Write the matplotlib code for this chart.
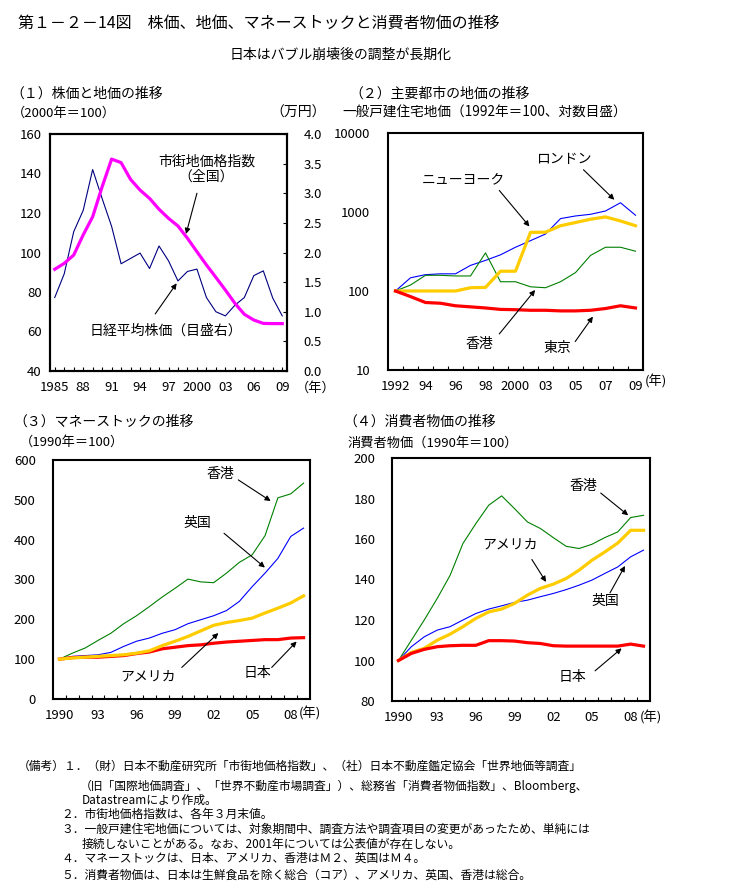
import matplotlib
matplotlib.use('Agg')
import matplotlib.pyplot as plt

plt.rcParams['font.family'] = ['Noto Sans CJK JP', 'DejaVu Sans']

W, H = 731, 893

# (1) 株価と地価の推移
p1_years = list(range(1985, 2010))
land_index = [91.5, 94.5, 98.7, 108.9, 118.1, 133.3, 147.3, 145.5, 137.0, 131.6,
              127.4, 121.9, 117.3, 113.4, 107.2, 100.4, 93.7, 87.4, 81.0, 74.3,
              68.7, 65.8, 64.1, 64.0, 64.0]
nikkei = [1.24, 1.64, 2.35, 2.71, 3.40, 2.91, 2.44, 1.81, 1.90, 1.99,
          1.73, 2.11, 1.86, 1.52, 1.68, 1.72, 1.24, 1.00, 0.93, 1.11,
          1.24, 1.61, 1.69, 1.23, 0.93]
p1_label_years = [1985, 1988, 1991, 1994, 1997, 2000, 2003, 2006, 2009]
p1_labels = ['1985', '88', '91', '94', '97', '2000', '03', '06', '09']

# (2) 主要都市の地価 (2001年は欠落)
p2_years = [1992, 1993, 1994, 1995, 1996, 1997, 1998, 1999, 2000,
            2002, 2003, 2004, 2005, 2006, 2007, 2008, 2009]
p2_labels = ['1992', '94', '96', '98', '2000', '03', '05', '07', '09']
london = [100, 147, 161, 165, 165, 211, 244, 287, 358, 434, 526, 825, 891, 935, 1030, 1310, 910]
newyork = [100, 100, 100, 100, 100, 110, 111, 178, 178, 552, 555, 670, 736, 810, 866, 770, 670]
hongkong_land = [100, 119, 158, 158, 155, 155, 304, 131, 131, 113, 110, 131, 171, 282, 358, 358, 319]
tokyo = [100, 85, 71.5, 70, 65, 63, 61, 58.5, 58, 57, 57, 56, 56, 57, 60, 65, 61]

# (3) マネーストック
p34_years = list(range(1990, 2010))
p34_label_years = [1990, 1993, 1996, 1999, 2002, 2005, 2008]
p34_labels = ['1990', '93', '96', '99', '02', '05', '08']
ms_hk = [100, 115, 128, 147, 165, 189, 209, 232, 256, 278,
         301, 294, 292, 316, 343, 362, 410, 505, 515, 542]
ms_uk = [100, 107, 109, 111, 117, 132, 145, 153, 165, 174,
         189, 199, 209, 222, 245, 282, 316, 353, 408, 429]
ms_us = [100, 103, 105, 107, 109, 111, 115, 121, 134, 145,
         157, 171, 185, 192, 197, 203, 216, 228, 241, 259]
ms_jp = [100, 104, 105, 105, 107, 109, 114, 118, 126, 130,
         134, 136, 140, 143, 145, 147, 149, 149, 153, 154]

# (4) 消費者物価
cpi_hk = [100, 110, 120, 130.6, 142, 157.8, 167.6, 176.7, 181.3, 175,
          168.4, 165.2, 160.7, 156.4, 155.3, 157.4, 160.7, 163.5, 170.6, 171.7]
cpi_us = [100, 104, 106, 110, 113, 116.7, 120.8, 124, 125.4, 128.2,
          132.3, 135.6, 137.7, 140.5, 144.6, 149.5, 153.6, 158, 164.3, 164.3]
cpi_uk = [100, 106.8, 111.7, 115, 116.7, 120, 123.2, 125.4, 127, 128.7,
          129.8, 131.5, 133.1, 135, 137.2, 139.7, 143, 146.2, 151.2, 154.5]
cpi_jp = [100, 103.5, 105.5, 106.8, 107.3, 107.5, 107.5, 109.8, 109.8, 109.6,
          108.8, 108.4, 107.3, 107.1, 107.1, 107.1, 107.1, 107.1, 108.1, 107.1]

MAGENTA = '#FF00FF'
NAVY = '#000080'
BLUE = '#0000FF'
GOLD = '#FFCC00'
GREEN = '#008000'
RED = '#FF0000'
THICK = 2.3
THIN = 0.8

fig = plt.figure(figsize=(W / 100, H / 100), dpi=100)


def add_axes_px(left, top, right, bottom):
    return fig.add_axes([left / W, 1 - bottom / H, (right - left) / W, (bottom - top) / H])


def ftext(x, y, s, size=10, **kw):
    fig.text(x / W, 1 - y / H, s, fontsize=size, va='center', **kw)


def style(ax, ypad):
    for sp in ax.spines.values():
        sp.set_linewidth(1.5)
    ax.tick_params(axis='y', which='both', length=0, pad=ypad, labelsize=9.5)
    ax.tick_params(axis='x', which='major', length=0, pad=7, labelsize=9.5)
    ax.tick_params(axis='x', which='minor', direction='in', length=3, width=0.8)


def arrow(ax, tail, head):
    ax.annotate('', xy=head, xytext=tail,
                arrowprops=dict(arrowstyle='-|>', color='black', lw=0.8,
                                mutation_scale=8, shrinkA=0, shrinkB=0))


# titles
ftext(18, 23, '第１－２－14図　株価、地価、マネーストックと消費者物価の推移', size=11.5)
ftext(341, 55, '日本はバブル崩壊後の調整が長期化', size=10, ha='center')

# ---- (1)
ftext(10, 94, '（１）株価と地価の推移')
ftext(12, 113, '（2000年＝100）', size=9.5)
ftext(270, 113, '（万円）')
ax1 = add_axes_px(50, 134, 287, 371)
ax1.plot(p1_years, land_index, color=MAGENTA, lw=THICK, zorder=3)
ax1.set_xlim(1984.5, 2009.5)
ax1.set_ylim(40, 160)
ax1.set_yticks(range(40, 161, 20))
ax1.set_xticks(p1_label_years, p1_labels)
ax1.set_xticks(p1_years, minor=True)
style(ax1, 6)
ax1.tick_params(axis='x', which='major', direction='in', length=3, width=0.8)
ax1r = ax1.twinx()
ax1r.plot(p1_years, nikkei, color=NAVY, lw=THIN, zorder=2)
ax1r.set_ylim(0, 4)
ax1r.set_yticks([i * 0.5 for i in range(9)])
ax1r.set_yticklabels(['%.1f' % (i * 0.5) for i in range(9)])
ax1r.tick_params(axis='y', direction='in', length=3, width=0.8, pad=12, labelsize=9.5)
ax1.set_zorder(ax1r.get_zorder() + 1)
ax1.patch.set_visible(False)
for sp in ax1r.spines.values():
    sp.set_linewidth(1.5)
ax1.text(2001.0, 145.8, '市街地価格指数', ha='center', va='center', fontsize=10)
ax1.text(2001.0, 138.2, '（全国）', ha='center', va='center', fontsize=10)
arrow(ax1, (2000.0, 130.0), (1998.85, 109.4))
ax1.text(1996.7, 60.3, '日経平均株価（目盛右）', ha='center', va='center', fontsize=10)
arrow(ax1, (1995.6, 68.9), (1997.86, 84.4))
ftext(296, 388, '（年）', size=9.5)

# ---- (2)
ftext(349, 94, '（２）主要都市の地価の推移')
ftext(342, 113, '一般戸建住宅地価（1992年＝100、対数目盛）', size=9.8)
ax2 = add_axes_px(388, 133, 643, 370)
idx = list(range(len(p2_years)))
ax2.plot(idx, london, color=BLUE, lw=THIN)
ax2.plot(idx, hongkong_land, color=GREEN, lw=THIN)
ax2.plot(idx, newyork, color=GOLD, lw=THICK)
ax2.plot(idx, tokyo, color=RED, lw=THICK)
ax2.set_yscale('log')
ax2.set_ylim(10, 10000)
ax2.set_yticks([10, 100, 1000, 10000], ['10', '100', '1000', '10000'])
ax2.yaxis.set_minor_locator(matplotlib.ticker.NullLocator())
ax2.set_xlim(-0.5, len(p2_years) - 0.5)
ax2.set_xticks(idx[::2], p2_labels)
ax2.set_xticks([i + 0.5 for i in idx[:-1]], minor=True)
style(ax2, 13)
ax2.text(11.2, 4677, 'ロンドン', ha='center', va='center', fontsize=10)
arrow(ax2, (12.53, 3428), (14.59, 1429))
ax2.text(4.5, 2612, 'ニューヨーク', ha='center', va='center', fontsize=10)
arrow(ax2, (6.92, 1875), (8.93, 655))
ax2.text(5.58, 21.4, '香港', ha='center', va='center', fontsize=10)
arrow(ax2, (6.92, 28.6), (9.31, 103))
ax2.text(10.81, 18.8, '東京', ha='center', va='center', fontsize=10)
arrow(ax2, (11.98, 22.9), (13.16, 47.4))
ftext(645, 381, '(年)', size=9.5)

# ---- (3)
ftext(13, 422, '（３）マネーストックの推移')
ftext(20, 442, '（1990年＝100）', size=9.5)
ax3 = add_axes_px(53, 460, 310, 699)
ax3.plot(p34_years, ms_hk, color=GREEN, lw=THIN)
ax3.plot(p34_years, ms_uk, color=BLUE, lw=THIN)
ax3.plot(p34_years, ms_jp, color=RED, lw=THICK)
ax3.plot(p34_years, ms_us, color=GOLD, lw=THICK)
ax3.set_xlim(1989.5, 2009.5)
ax3.set_ylim(0, 600)
ax3.set_yticks(range(0, 601, 100))
ax3.set_xticks(p34_label_years, p34_labels)
ax3.set_xticks([y + 0.5 for y in p34_years[:-1]], minor=True)
style(ax3, 12.5)
ax3.text(2002.5, 565, '香港', ha='center', va='center', fontsize=10)
arrow(ax3, (2003.92, 550), (2006.44, 497))
ax3.text(2000.7, 441, '英国', ha='center', va='center', fontsize=10)
arrow(ax3, (2002.81, 416), (2005.99, 330))
ax3.text(1996.93, 56.7, 'アメリカ', ha='center', va='center', fontsize=10)
arrow(ax3, (1999.52, 79.2), (2002.37, 165.5))
ax3.text(2005.41, 65.2, '日本', ha='center', va='center', fontsize=10)
arrow(ax3, (2006.52, 79.2), (2008.46, 144.4))
ftext(299, 714, '(年)', size=9.5)

# ---- (4)
ftext(343, 422, '（４）消費者物価の推移')
ftext(347, 443, '消費者物価（1990年＝100）', size=9.5)
ax4 = add_axes_px(392, 458, 650, 701)
ax4.plot(p34_years, cpi_hk, color=GREEN, lw=THIN)
ax4.plot(p34_years, cpi_uk, color=BLUE, lw=THIN)
ax4.plot(p34_years, cpi_us, color=GOLD, lw=THICK)
ax4.plot(p34_years, cpi_jp, color=RED, lw=THICK)
ax4.set_xlim(1989.5, 2009.5)
ax4.set_ylim(80, 200)
ax4.set_yticks(range(80, 201, 20))
ax4.set_xticks(p34_label_years, p34_labels)
ax4.set_xticks([y + 0.5 for y in p34_years[:-1]], minor=True)
style(ax4, 12)
ax4.text(2004.33, 186, '香港', ha='center', va='center', fontsize=10)
arrow(ax4, (2005.68, 182.7), (2007.81, 171.7))
ax4.text(1998.66, 157.3, 'アメリカ', ha='center', va='center', fontsize=10)
arrow(ax4, (2000.34, 149.9), (2001.44, 138.8))
ax4.text(2006.03, 129.3, '英国', ha='center', va='center', fontsize=10)
arrow(ax4, (2006.4, 133.4), (2007.56, 146.7))
ax4.text(2003.52, 91.7, '日本', ha='center', va='center', fontsize=10)
arrow(ax4, (2005.24, 94.9), (2007.3, 106))
ftext(640, 718, '(年)', size=9.5)

# notes
notes = [
    (18, 766, '（備考）１．（財）日本不動産研究所「市街地価格指数」、（社）日本不動産鑑定協会「世界地価等調査」'),
    (80, 786, '（旧「国際地価調査」、「世界不動産市場調査」）、総務省「消費者物価指数」、Bloomberg、'),
    (82, 800, 'Datastreamにより作成。'),
    (61, 814, '２．市街地価格指数は、各年３月末値。'),
    (61, 829, '３．一般戸建住宅地価については、対象期間中、調査方法や調査項目の変更があったため、単純には'),
    (82, 844, '接続しないことがある。なお、2001年については公表値が存在しない。'),
    (61, 858, '４．マネーストックは、日本、アメリカ、香港はＭ２、英国はＭ４。'),
    (61, 875, '５．消費者物価は、日本は生鮮食品を除く総合（コア）、アメリカ、英国、香港は総合。'),
]
for x, y, s in notes:
    ftext(x, y, s, size=8.5)

fig.savefig('out.png', dpi=100)
